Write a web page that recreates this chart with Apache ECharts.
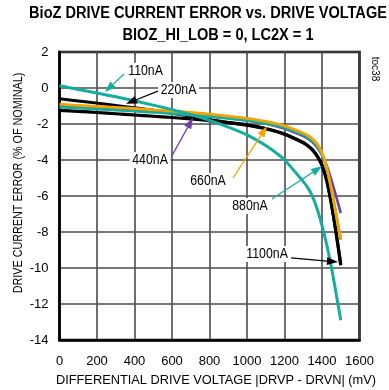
<!DOCTYPE html>
<html>
<head>
<meta charset="utf-8">
<script src="https://cdn.jsdelivr.net/npm/echarts@6/dist/echarts.min.js"></script>
<style>
  html, body { margin: 0; padding: 0; background: #fff; }
  #chart { width: 389px; height: 390px; }
</style>
</head>
<body>
<div id="chart"></div>
<script>
// Differential drive voltage (mV) sample points shared by every curve
var voltage = [0, 100, 200, 300, 400, 500, 600, 700, 800, 900, 1000, 1100, 1200, 1300,
               1325, 1350, 1375, 1400, 1425, 1450, 1475, 1500];

// Drive current error (% of nominal) for each drive current setting
var err110  = [0.12, -0.08, -0.28, -0.49, -0.71, -0.95, -1.2, -1.48, -1.8, -2.17, -2.6, -3.2, -4.0, -5.2,
               -5.55, -6.05, -6.75, -7.65, -8.7, -9.95, -11.4, -12.9];
var err220  = [-0.6, -0.72, -0.84, -0.97, -1.1, -1.24, -1.4, -1.57, -1.75, -1.92, -2.07, -2.27, -2.57, -3.02,
               -3.2, -3.43, -3.78, -4.28, -5.12, -6.42, -8.02, -9.75];
var err440  = [-0.98, -1.04, -1.1, -1.16, -1.23, -1.3, -1.37, -1.45, -1.55, -1.66, -1.8, -1.98, -2.25, -2.67,
               -2.82, -3.02, -3.32, -3.72, -4.3, -5.1, -6.0, -6.95];
var err660  = [-0.9, -0.96, -1.02, -1.08, -1.14, -1.21, -1.28, -1.36, -1.45, -1.56, -1.69, -1.86, -2.1, -2.5,
               -2.64, -2.84, -3.12, -3.6, -4.4, -5.6, -7.0, -8.45];
var err880  = [-1.06, -1.11, -1.17, -1.23, -1.29, -1.35, -1.42, -1.5, -1.59, -1.69, -1.81, -1.97, -2.2, -2.6,
               -2.75, -2.95, -3.25, -3.7, -4.45, -5.65, -7.0, -8.4];
var err1100 = [-1.24, -1.3, -1.36, -1.43, -1.5, -1.57, -1.64, -1.72, -1.81, -1.92, -2.05, -2.25, -2.55, -3.05,
               -3.22, -3.45, -3.8, -4.3, -5.15, -6.45, -8.05, -9.85];

// Axis ticks
var xTicks = [0, 200, 400, 600, 800, 1000, 1200, 1400, 1600];
var yTicks = [2, 0, -2, -4, -6, -8, -10, -12, -14];

var TEAL = '#14ad9f', BLACK = '#000000', ORANGE = '#f5a300', PURPLE = '#6f3ea3';
var FONT = '"Liberation Sans", Arial, sans-serif';

function pairs(ys) {
  return voltage.map(function (x, i) { return [x, ys[i]]; });
}

function curve(name, ys, color, width) {
  return {
    name: name,
    type: 'line',
    data: pairs(ys),
    showSymbol: false,
    smooth: 0.25,
    lineStyle: { color: color, width: width },
    z: 3
  };
}

var chart = echarts.init(document.getElementById('chart'), null, { renderer: 'canvas' });

chart.setOption({
  animation: false,
  backgroundColor: '#ffffff',
  grid: {
    left: 59.5, right: 29.5, top: 52, bottom: 50,
    show: true, borderColor: '#000', borderWidth: 2.5
  },
  xAxis: {
    type: 'value',
    min: 0, max: 1600, interval: 200,
    axisLine: { show: true, onZero: false, lineStyle: { color: '#000', width: 2.5 } },
    axisTick: { show: false },
    axisLabel: {
      fontFamily: FONT, fontSize: 13, color: '#000', margin: 15,
      formatter: function (v) { return xTicks.indexOf(v) >= 0 ? String(v) : ''; }
    },
    splitLine: { show: true, lineStyle: { color: '#4d4d4d', width: 1.6 } }
  },
  yAxis: {
    type: 'value',
    min: -14, max: 2, interval: 2,
    axisLine: { show: true, onZero: false, lineStyle: { color: '#000', width: 2.5 } },
    axisTick: { show: false },
    axisLabel: {
      fontFamily: FONT, fontSize: 13, color: '#000', margin: 11,
      formatter: function (v) { return yTicks.indexOf(v) >= 0 ? String(v) : ''; }
    },
    splitLine: { show: true, lineStyle: { color: '#4d4d4d', width: 1.6 } }
  },
  series: [
    curve('1100nA', err1100, BLACK, 3.2),
    curve('220nA', err220, BLACK, 3),
    curve('440nA', err440, PURPLE, 2.6),
    curve('880nA', err880, TEAL, 2.8),
    curve('660nA', err660, ORANGE, 2.8),
    curve('110nA', err110, TEAL, 3)
  ]
});

// Callout labels: text anchor, arrow start and arrow tip, all in data units
var callouts = [
  { text: '110nA',  color: TEAL,   at: [459, 0.96],   from: [344, 0.78],  to: [243, -0.22] },
  { text: '220nA',  color: BLACK,  at: [635, -0.11],  from: [525, -0.17], to: [355, -0.88] },
  { text: '440nA',  color: PURPLE, at: [483, -4.0],   from: [602, -3.72], to: [712, -1.65] },
  { text: '660nA',  color: ORANGE, at: [792, -5.17],  from: [925, -5.0],  to: [1107, -2.12] },
  { text: '880nA',  color: TEAL,   at: [1016, -6.56], from: [1133, -6.17], to: [1400, -4.35] },
  { text: '1100nA', color: BLACK,  at: [1107, -9.22], from: [1235, -9.44], to: [1485, -9.67] }
];

function textEl(str, x, y, size, bold, sx, rot) {
  return {
    type: 'text', z: 21, x: x, y: y, scaleX: sx, rotation: rot || 0,
    style: {
      text: str, fill: '#000',
      font: (bold ? 'bold ' : '') + size + 'px ' + FONT,
      align: 'center', verticalAlign: 'middle'
    }
  };
}

function buildGraphics() {
  var els = [];
  callouts.forEach(function (c) {
    var p = chart.convertToPixel({ gridIndex: 0 }, c.at);
    var a = chart.convertToPixel({ gridIndex: 0 }, c.from);
    var b = chart.convertToPixel({ gridIndex: 0 }, c.to);
    var dx = b[0] - a[0], dy = b[1] - a[1];
    var len = Math.sqrt(dx * dx + dy * dy);
    var ux = dx / len, uy = dy / len;
    var hl = 11, hw = 4;
    var base = [b[0] - ux * hl, b[1] - uy * hl];
    els.push({
      type: 'line', z: 20,
      shape: { x1: a[0], y1: a[1], x2: base[0], y2: base[1] },
      style: { stroke: c.color, lineWidth: 1.3 }
    });
    els.push({
      type: 'polygon', z: 20,
      shape: { points: [b, [base[0] - uy * hw, base[1] + ux * hw], [base[0] + uy * hw, base[1] - ux * hw]] },
      style: { fill: c.color }
    });
    els.push({
      type: 'text', z: 21,
      x: p[0], y: p[1], scaleX: 0.88,
      style: {
        text: c.text, fill: '#000', font: '14px ' + FONT,
        align: 'center', verticalAlign: 'middle',
        backgroundColor: '#fff', padding: [1, 3]
      }
    });
  });
  // Title, axis names and figure tag
  els.push(textEl('BioZ DRIVE CURRENT ERROR vs. DRIVE VOLTAGE', 208, 14, 16, true, 0.91));
  els.push(textEl('BIOZ_HI_LOB = 0, LC2X = 1', 218, 36, 16, true, 0.91));
  els.push(textEl('DIFFERENTIAL DRIVE VOLTAGE |DRVP - DRVN| (mV)', 216, 380, 13, false, 0.985));
  els.push(textEl('DRIVE CURRENT ERROR (% OF NOMINAL)', 18, 183, 13, false, 0.83, Math.PI / 2));
  els.push(textEl('toc38', 375, 69, 10, false, 1, -Math.PI / 2));
  return els;
}

chart.setOption({ graphic: buildGraphics() });
</script>
</body>
</html>
